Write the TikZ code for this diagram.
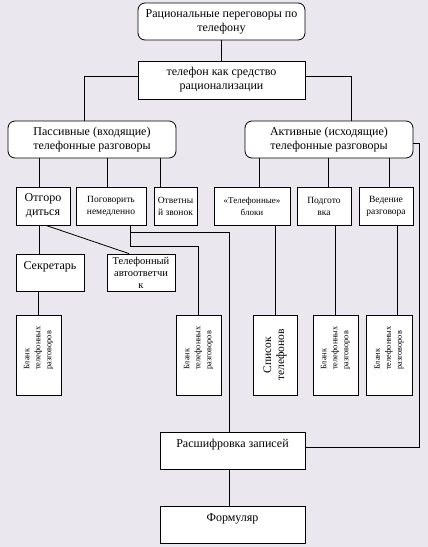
\documentclass[tikz,border=0pt]{standalone}
\usepackage{fontspec}
\setmainfont{Liberation Serif}
\definecolor{bg}{RGB}{234,232,238}
\begin{document}
\begin{tikzpicture}[x=1pt,y=-1pt,
 box/.style={draw=black, fill=white, line width=0.8pt, inner sep=0pt, align=center, anchor=center},
 rbox/.style={box, rounded corners=7pt},
 big/.style={font=\fontsize{12}{14}\selectfont},
 small/.style={font=\fontsize{9.5}{12}\selectfont},
 bltext/.style={rotate=90, align=left, inner sep=0pt, font=\fontsize{8.3}{11}\selectfont},
 conn/.style={draw=black, line width=0.8pt},
 sz/.style 2 args={minimum width=#1pt, minimum height=#2pt},
]
\fill[bg] (0,0) rectangle (428,547);
\useasboundingbox (0,0) rectangle (428,547);

% top levels
\node[rbox,big,sz={167}{37}] (top) at (221.5,21.5) {Рациональные переговоры по\\телефону};
\node[box,big,sz={167}{38}] (tel) at (221.5,80) {телефон как средство\\рационализации};
\node[rbox,big,sz={168}{37}] (pas) at (92,139.5) {Пассивные (входящие)\\телефонные разговоры};
\node[rbox,big,sz={168}{37}] (act) at (329,139.5) {Активные (исходящие)\\телефонные разговоры};

% second row
\node[box,big,sz={54}{38}] (otg) at (43,206) {Отгоро\\диться};
\node[box,small,sz={70}{38}] (pog) at (111,206) {Поговорить\\немедленно};
\node[box,small,sz={43}{38}] (otv) at (175.5,206) {Ответны\\й звонок};
\node[box,font=\fontsize{9}{12}\selectfont,sz={76}{38}] (tb) at (252,206) {«Телефонные»\\блоки};
\node[box,small,sz={54}{38}] (pod) at (324,206) {Подгото\\вка};
\node[box,small,sz={54}{38}] (ved) at (386,206) {Ведение\\разговора};

% third row
\node[box,big,sz={68}{37}] (sek) at (50,272.5) {Секретарь\\\mbox{}};
\node[box,font=\fontsize{10.5}{12}\selectfont,sz={68}{37}] (avt) at (141,272.5) {Телефонный\\автоответчи\\к};

% fourth row
\node[box,sz={45}{80}] (bl1) at (38.5,355) {};
\node[box,sz={45}{80}] (bl2) at (198.5,355) {};
\node[box,sz={80}{44},rotate=90,font=\fontsize{11.5}{13}\selectfont] (spis) at (275,355) {Список\\телефонов};
\node[box,sz={45}{80}] (bl3) at (335.5,355) {};
\node[box,sz={46}{80}] (bl4) at (389,355) {};
\node[bltext] (t1) at (38.5,348) {Бланк\\телефонных\\разговоров};
\node[bltext] (t2) at (198.5,348) {Бланк\\телефонных\\разговоров};
\node[bltext] (t3) at (335.5,348) {Бланк\\телефонных\\разговоров};
\node[bltext] (t4) at (389,348) {Бланк\\телефонных\\разговоров};

% bottom
\node[box,big,sz={145}{37}] (ras) at (232.5,450.5) {Расшифровка записей\\\mbox{}};
\node[box,big,sz={145}{37}] (form) at (232.5,524.5) {Формуляр\\\mbox{}};

% connectors
\draw[conn] (top) -- (tel);
\draw[conn] ([yshift=4pt]tel.west) -| ([xshift=-8pt]pas.north);
\draw[conn] ([yshift=4pt]tel.east) -| ([xshift=22pt]act.north);

\coordinate (p1) at ([xshift=-4pt]otg.north);
\coordinate (p2) at ([xshift=-4pt]pog.north);
\coordinate (p3) at ([xshift=-15.5pt]otv.north);
\draw[conn] (p1) -- (p1 |- pas.south);
\draw[conn] (p2) -- (p2 |- pas.south);
\draw[conn] (p3) -- (p3 |- pas.south);

\coordinate (a1) at ([xshift=7pt]tb.north);
\coordinate (a2) at ([xshift=4pt]pod.north);
\coordinate (a3) at ([xshift=3pt]ved.north);
\draw[conn] (a1) -- (a1 |- act.south);
\draw[conn] (a2) -- (a2 |- act.south);
\draw[conn] (a3) -- (a3 |- act.south);

\coordinate (r1) at ([yshift=-3.5pt]act.east);
\coordinate (r2) at ([yshift=3.5pt]ras.east);
\draw[conn] (r1) -- ++(6,0) |- (r2);

\coordinate (s1) at ([xshift=-11pt]sek.north);
\draw[conn] (s1) -- (s1 |- otg.south);
\draw[conn] ([xshift=3pt]otg.south) -- ([xshift=-12pt]avt.north);
\draw[conn] (sek.south -| bl1.north) -- (bl1.north);

\coordinate (g1) at ([xshift=19pt]pog.south);
\draw[conn] (g1) -- ++(0,21) -| (bl2.north);
\draw[conn] (g1) ++(0,7) -| ([xshift=-3.5pt]ras.north);

\draw[conn] (spis.east |- tb.south) -- (spis.east);
\draw[conn] (bl3.north |- pod.south) -- (bl3.north);
\coordinate (v1) at ([xshift=8pt]bl4.north);
\draw[conn] (v1) -- (v1 |- ved.south);

\draw[conn] ([xshift=-3.5pt]ras.south) -- ([xshift=-3.5pt]form.north);
\end{tikzpicture}
\end{document}
